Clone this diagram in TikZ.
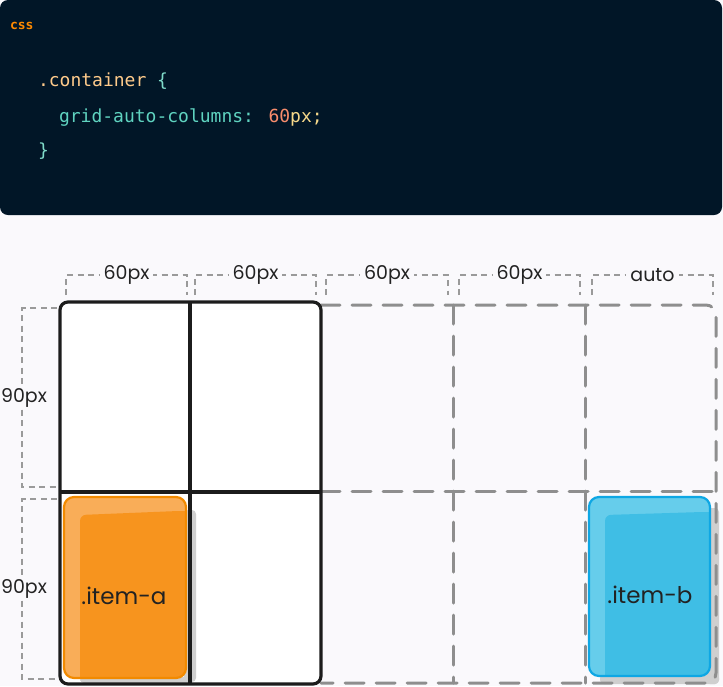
\documentclass[tikz,border=0pt]{standalone}
\usepackage{fontspec}
\setmainfont{Poppins}
\newfontfamily\codefont{DejaVu Sans Mono}
\begin{document}
\begin{tikzpicture}[x=1pt,y=-1pt,
  every node/.style={inner sep=0pt,outer sep=0pt},
  dimline/.style={draw=dimgray,line width=1.1pt,dash pattern=on 6pt off 4.5pt},
  dimlabel/.style={fill=bgc,inner xsep=4pt,inner ysep=2pt,font=\fontsize{19}{21}\selectfont,text=txt},
  ghost/.style={draw=ghostgray,line width=3pt,dash pattern=on 19pt off 12pt,line cap=round},
  solid grid/.style={draw=ink,line width=3.2pt},
  itemlabel/.style={font=\fontsize{23}{26}\selectfont,text=txt},
  code/.style={anchor=base west,font=\codefont\fontsize{18}{20}\selectfont}]
\definecolor{bgc}{HTML}{FAF9FC}
\definecolor{panel}{HTML}{011627}
\definecolor{dimgray}{HTML}{9A9A9A}
\definecolor{ghostgray}{HTML}{8E8E8E}
\definecolor{ink}{HTML}{1C1C1C}
\definecolor{txt}{HTML}{222222}
\definecolor{sel}{HTML}{FFCB8B}
\definecolor{punc}{HTML}{7FDBCA}
\definecolor{prop}{HTML}{5FD3C0}
\definecolor{num}{HTML}{F78C6C}
\definecolor{unit}{HTML}{F7D98A}
\definecolor{cssorange}{HTML}{FF8A00}
\definecolor{orbase}{HTML}{F7941E}
\definecolor{orlight}{HTML}{F9AD58}
\definecolor{oredge}{HTML}{F28A00}
\definecolor{blbase}{HTML}{3FBEE5}
\definecolor{bllight}{HTML}{66CDEB}
\definecolor{bledge}{HTML}{0EA7E4}
\definecolor{shadow}{HTML}{CFCFCF}

% canvas
\fill[bgc] (0,0) rectangle (723,686);
\useasboundingbox (0,0) rectangle (723,686);

% code panel
\fill[panel,rounded corners=8pt] (0,0) rectangle (722,215);
\node[anchor=base west,font=\codefont\bfseries\fontsize{13}{14}\selectfont,text=cssorange] (lang) at (10,29) {css};
\node[code] (l1) at (38,86) {\textcolor{sel}{.container} \textcolor{punc}{\{}};
\node[code] (l2) at (59,122) {\textcolor{prop}{grid-auto-columns:} \textcolor{num}{60}\textcolor{unit}{px;}};
\node[code] (l3) at (38,156) {\textcolor{punc}{\}}};

% white cells of explicit grid
\fill[white,rounded corners=7pt] (60,302) rectangle (321,684);

% item shadows
\fill[shadow,rounded corners=4pt] (184,510) rectangle (196,682);
\fill[shadow,rounded corners=4pt] (80,677) rectangle (192,683);
\fill[shadow,rounded corners=4pt] (706,508) rectangle (719,684);
\fill[shadow,rounded corners=4pt] (600,674) rectangle (719,684);

% implicit (dashed) grid
\draw[ghost] (321,305) -- (706,305) arc[start angle=90,end angle=0,radius=10pt] -- (716,673) arc[start angle=0,end angle=-90,radius=10pt] -- (321,683);
\draw[ghost] (453,305) -- (453,683);
\draw[ghost] (585,305) -- (585,683);
\draw[ghost] (321,491) -- (716,491);

% explicit grid
\draw[solid grid] (190,302) -- (190,684);
\draw[solid grid] (60,492) -- (321,492);
\draw[solid grid,rounded corners=8pt] (60,302) rectangle (321,684);

% item-a
\begin{scope}
  \clip[rounded corners=10pt] (64,497) rectangle (186,678);
  \fill[orlight] (64,497) rectangle (186,678);
  \fill[orbase,rounded corners=6pt] (80,515) -- (178,511) -- (190,511) -- (190,690) -- (80,690) -- cycle;
\end{scope}
\draw[oredge,line width=2.2pt,rounded corners=10pt] (64,497) rectangle (186,678);
\node[itemlabel] (ia) at (124,596) {.item-a};

% item-b
\begin{scope}
  \clip[rounded corners=10pt] (589,497) rectangle (710,676);
  \fill[bllight] (589,497) rectangle (710,676);
  \fill[blbase,rounded corners=6pt] (605,515) -- (702,512) -- (715,512) -- (715,690) -- (605,690) -- cycle;
\end{scope}
\draw[bledge,line width=2.2pt,rounded corners=10pt] (589,497) rectangle (710,676);
\node[itemlabel] (ib) at (650,595) {.item-b};

% column size brackets
\foreach \a/\b/\t [count=\i] in {66/187/60px,195/316/60px,326/448/60px,459/580/60px,592/713/auto}{
  \coordinate (c\i l) at (\a,295);
  \coordinate (c\i r) at (\b,295);
  \draw[dimline] (c\i l) -- (\a,275) -- (\b,275) -- (c\i r);
  \node[dimlabel] (c\i) at ({(\a+\b)/2},275) {\t};
}

% row size brackets
\foreach \a/\b [count=\i] in {308/487,499/679}{
  \coordinate (r\i t) at (57,\a);
  \coordinate (r\i b) at (57,\b);
  \draw[dimline] (r\i t) -- (22,\a) -- (22,\b) -- (r\i b);
  \node[dimlabel,inner xsep=1pt] (r\i) at (24,{(\a+\b)/2}) {90px};
}
\end{tikzpicture}
\end{document}
